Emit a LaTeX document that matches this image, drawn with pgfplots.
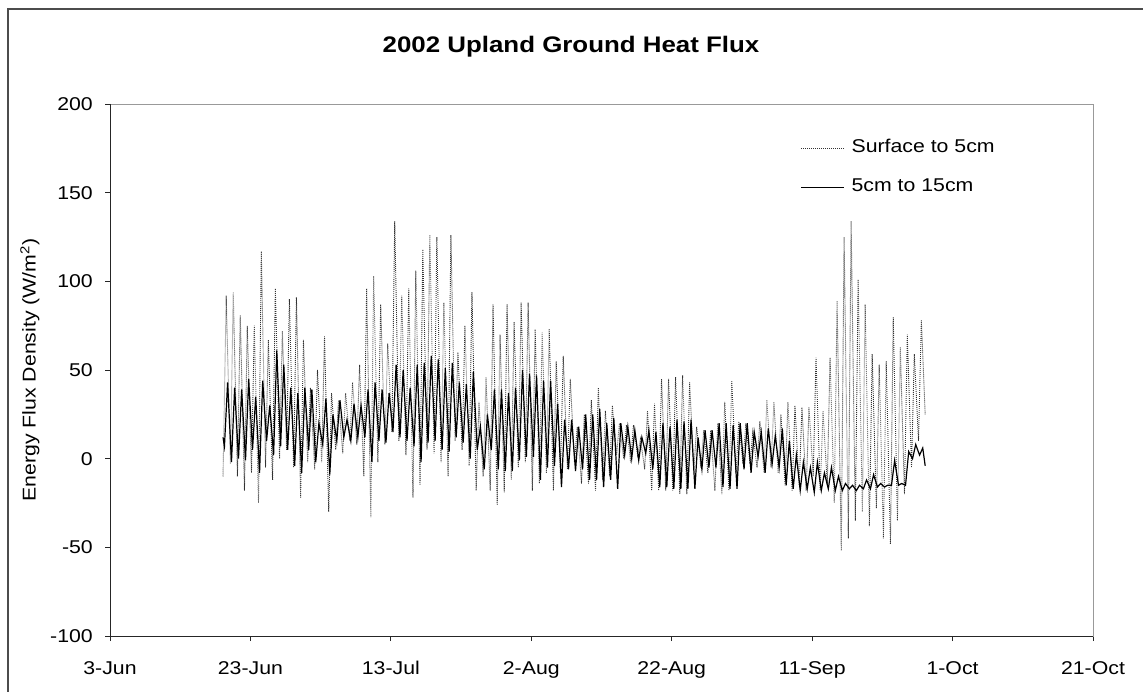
\documentclass[border=0pt]{standalone}
\usepackage{fontspec}
\setmainfont{Liberation Sans}[FakeStretch=1.15]
\usepackage{pgfplots}
\pgfplotsset{compat=1.18}
\usepackage{pgfplotstable}

% day = days after 3 June 2002, flux in W/m^2
\pgfplotstableread{
d v
16.1 -10
16.55 92
17.15 -3
17.55 94
18.15 -10
18.55 81
19.15 -18
19.55 75
20.15 -8
20.55 75
21.15 -25
21.55 117
22.15 -5
22.55 67
23.15 -12
23.55 96
24.15 0
24.55 72
25.15 5
25.55 90
26.15 -5
26.55 91
27.15 -22
27.55 67
28.15 -2
28.55 40
29.15 -6
29.55 50
30.15 -2
30.55 69
31.15 -30
31.55 37
32.15 5
32.55 33
33.15 3
33.55 37
34.15 10
34.55 43
35.15 8
35.55 53
36.15 -10
36.55 96
37.15 -33
37.55 103
38.15 -2
38.55 87
39.15 8
39.55 65
40.15 15
40.55 134
41.15 10
41.55 92
42.15 2
42.55 96
43.15 -22
43.55 106
44.15 -15
44.55 118
45.15 5
45.55 126
46.15 3
46.55 125
47.15 -2
47.55 88
48.15 -10
48.55 126
49.15 10
49.55 60
50.15 5
50.55 75
51.15 -4
51.55 94
52.15 -18
52.55 32
53.15 -10
53.55 46
54.15 -18
54.55 87
55.15 -26
55.55 70
56.15 -19
56.55 87
57.15 -12
57.55 77
58.15 -5
58.55 88
59.15 -2
59.55 88
60.15 -18
60.55 73
61.15 -14
61.55 71
62.15 -8
62.55 73
63.15 -18
63.55 55
64.15 -8
64.55 58
65.15 -6
65.55 45
66.15 -2
66.55 18
67.15 -14
67.55 25
68.15 -14
68.55 33
69.15 -18
69.55 40
70.15 -12
70.55 27
71.15 -10
71.55 30
72.15 2
72.55 20
73.15 0
73.55 19
74.15 -2
74.55 19
75.15 2
75.55 11
76.15 -6
76.55 27
77.15 -18
77.55 31
78.15 -18
78.55 45
79.15 -18
79.55 45
80.15 -18
80.55 46
81.15 -20
81.55 47
82.15 -20
82.55 43
83.15 -7
83.55 18
84.15 -5
84.55 16
85.15 -8
85.55 16
86.15 -18
86.55 20
87.15 -20
87.55 32
88.15 -18
88.55 44
89.15 -8
89.55 21
90.15 -3
90.55 20
91.15 -3
91.55 15
92.15 -5
92.55 21
93.15 -8
93.55 33
94.15 -5
94.55 32
95.15 -8
95.55 25
96.15 -15
96.55 32
97.15 -18
97.55 30
98.15 -15
98.55 29
99.15 -18
99.55 29
100.15 -10
100.55 57
101.15 -18
101.55 27
102.15 -15
102.55 57
103.15 -25
103.55 89
104.15 -52
104.55 125
105.15 -45
105.55 134
106.15 -35
106.55 101
107.15 -30
107.55 87
108.15 -38
108.55 59
109.15 -28
109.55 53
110.15 -45
110.55 55
111.15 -48
111.55 80
112.15 -35
112.55 63
113.15 -20
113.55 70
114.15 -5
114.55 59
115.15 10
115.55 78
116.1 25
}\surfacefive

\pgfplotstableread{
d v
16.1 12
16.3 7
16.75 43
17.3 -2
17.75 40
18.3 0
18.75 39
19.3 -1
19.75 45
20.3 5
20.75 35
21.3 -8
21.75 44
22.3 10
22.75 30
23.3 2
23.75 61
24.3 7
24.75 53
25.3 5
25.75 40
26.3 -4
26.75 37
27.3 -8
27.75 40
28.3 5
28.75 39
29.3 -2
29.75 20
30.3 8
30.75 34
31.3 -9
31.75 25
32.3 10
32.75 33
33.3 12
33.75 22
34.3 10
34.75 31
35.3 12
35.75 30
36.3 12
36.75 39
37.3 -2
37.75 43
38.3 10
38.75 39
39.3 9
39.75 37
40.3 15
40.75 53
41.3 12
41.75 50
42.3 10
42.75 40
43.3 7
43.75 53
44.3 -2
44.75 54
45.3 9
45.75 58
46.3 10
46.75 56
47.3 5
47.75 51
48.3 4
48.75 54
49.3 12
49.75 43
50.3 9
50.75 42
51.3 0
51.75 49
52.3 5
52.75 18
53.3 -6
53.75 25
54.3 5
54.75 39
55.3 -6
55.75 39
56.3 -7
56.75 37
57.3 -7
57.75 40
58.3 -1
58.75 50
59.3 1
59.75 48
60.3 1
60.75 47
61.3 -12
61.75 44
62.3 -5
62.75 44
63.3 -4
63.75 31
64.3 -16
64.75 22
65.3 -6
65.75 22
66.3 -7
66.75 18
67.3 -6
67.75 25
68.3 -12
68.75 25
69.3 -12
69.75 28
70.3 -16
70.75 20
71.3 -12
71.75 23
72.3 -17
72.75 20
73.3 2
73.75 18
74.3 0
74.75 16
75.3 -1
75.75 12
76.3 3
76.75 16
77.3 -6
77.75 15
78.3 -16
78.75 20
79.3 -16
79.75 18
80.3 -17
80.75 22
81.3 -17
81.75 21
82.3 -17
82.75 22
83.3 -17
83.75 12
84.3 -6
84.75 16
85.3 -5
85.75 16
86.3 -5
86.75 20
87.3 -16
87.75 20
88.3 -17
88.75 19
89.3 -17
89.75 20
90.3 -6
90.75 20
91.3 -8
91.75 15
92.3 1
92.75 15
93.3 -8
93.75 17
94.3 -3
94.75 13
95.3 -5
95.75 17
96.3 -15
96.75 10
97.3 -17
97.75 2
98.3 -18
98.75 -2
99.3 -17
99.75 -5
100.3 -19
100.75 -2
101.3 -18
101.75 -8
102.3 -17
102.75 -5
103.3 -18
103.75 -10
104.3 -18
104.75 -14
105.3 -17
105.75 -15
106.3 -18
106.75 -15
107.3 -17
107.75 -12
108.3 -17
108.75 -9
109.3 -16
109.75 -14
110.3 -16
110.75 -15
111.3 -15
111.75 -1
112.3 -15
112.75 -14
113.3 -15
113.75 4
114.3 0
114.75 8
115.3 2
115.75 6
116.1 -4
}\fivefifteen

\newcommand{\labelfont}{\fontsize{18.5}{22}\selectfont}

\begin{document}
\begin{tikzpicture}
% chart area border
\draw[black!70, line width=2pt] (8pt,-720pt) -- (8pt,-9pt) -- (1170pt,-9pt);

\node[font=\fontsize{22.5}{26}\selectfont\bfseries] at (571pt,-47pt) {2002 Upland Ground Heat Flux};
\node[rotate=90, font=\labelfont] at (30pt,-370pt) {Energy Flux Density (W/m\textsuperscript{2})};

\begin{axis}[
  at={(110pt,-636pt)}, anchor=south west,
  scale only axis, width=983pt, height=532pt,
  xmin=0, xmax=140, ymin=-100, ymax=200,
  xtick={0,20,...,140},
  xticklabels={3-Jun,23-Jun,13-Jul,2-Aug,22-Aug,11-Sep,1-Oct,21-Oct},
  ytick={-100,-50,...,200},
  tick align=outside, major tick length=5pt,
  xtick pos=bottom, ytick pos=left,
  axis line style={black!40, line width=0.8pt},
  tick style={black!85, line width=0.8pt},
  ticklabel style={font=\labelfont},
  /pgf/number format/assume math mode=true,
  xticklabel style={inner sep=0pt, yshift=-20pt},
  yticklabel style={inner sep=0pt, xshift=-12pt},
  legend style={draw=none, fill=none, at={(axis cs:98.3,180)}, anchor=north west,
    font=\labelfont, inner sep=0pt, row sep=22pt, column sep=7pt,
    nodes={inner sep=0pt, text height=13pt, text depth=4pt}},
  legend cell align=left,
  legend image code/.code={\draw[#1] (0pt,0pt) -- (43pt,0pt);},
]
\addplot[black!80, line width=0.9pt, dash pattern=on 0.9pt off 1.1pt] table[x=d, y=v] {\surfacefive};
\addlegendentry{Surface to 5cm}
\addplot[black, line width=1.2pt] table[x=d, y=v] {\fivefifteen};
\addlegendentry{5cm to 15cm}
\draw[black!85, line width=0.9pt] (rel axis cs:0,1) -- (rel axis cs:0,0) -- (rel axis cs:1,0);
\end{axis}

\pgfresetboundingbox
\useasboundingbox (0pt,0pt) rectangle (1143pt,-692pt);
\end{tikzpicture}
\end{document}
